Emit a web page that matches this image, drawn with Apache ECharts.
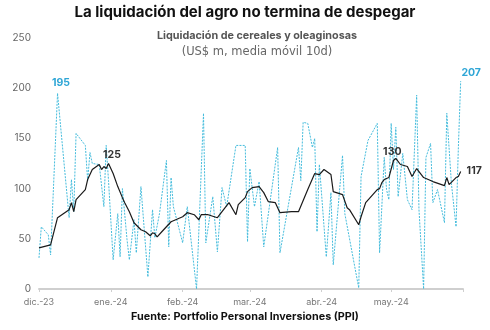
<!DOCTYPE html>
<html>
<head>
<meta charset="utf-8">
<script src="https://cdn.jsdelivr.net/npm/echarts@6/dist/echarts.min.js"></script>
<style>
html,body{margin:0;padding:0;background:#fff;}
#c{width:490px;height:330px;}
</style>
</head>
<body>
<div id="c"></div>
<script>
const title = 'La liquidación del agro no termina de despegar';
const subtitle1 = 'Liquidación de cereales y oleaginosas';
const subtitle2 = '(US$ m, media móvil 10d)';
const sourceLabel = 'Fuente: ';
const sourceName = 'Portfolio Personal Inversiones (PPI)';
const monthNames = ['ene.','feb.','mar.','abr.','may.','jun.','jul.','ago.','sep.','oct.','nov.','dic.'];
const yTicks = [0,50,100,150,200,250];

const dailyDates = ['2023-12-01','2023-12-02','2023-12-05','2023-12-06','2023-12-09','2023-12-14','2023-12-15','2023-12-16','2023-12-17','2023-12-21','2023-12-22','2023-12-23','2023-12-24','2023-12-27','2023-12-29','2023-12-30','2023-12-31',
'2024-01-02','2024-01-04','2024-01-05','2024-01-06','2024-01-08','2024-01-09','2024-01-11','2024-01-12','2024-01-14','2024-01-17','2024-01-19','2024-01-20','2024-01-22','2024-01-25','2024-01-26','2024-01-27','2024-01-28',
'2024-02-01','2024-02-03','2024-02-07','2024-02-10','2024-02-11','2024-02-14','2024-02-16','2024-02-18','2024-02-20','2024-02-24','2024-02-28','2024-02-29',
'2024-03-01','2024-03-03','2024-03-05','2024-03-07','2024-03-13','2024-03-14','2024-03-22','2024-03-23','2024-03-24','2024-03-26','2024-03-28','2024-03-29','2024-03-30','2024-03-31',
'2024-04-03','2024-04-05','2024-04-06','2024-04-10','2024-04-11','2024-04-17','2024-04-18','2024-04-21','2024-04-25','2024-04-26','2024-04-28','2024-04-29','2024-04-30',
'2024-05-01','2024-05-02','2024-05-03','2024-05-04','2024-05-06','2024-05-08','2024-05-10','2024-05-12','2024-05-13','2024-05-15','2024-05-16','2024-05-18','2024-05-19','2024-05-21','2024-05-24','2024-05-25','2024-05-27','2024-05-29','2024-05-30','2024-05-31'];
const dailyValues = [31,62,54,34,195,71,109,77,155,143,108,136,125,124,82,143,108,
29,75,32,100,49,29,69,36,102,12,79,51,75,128,42,111,82,
46,82,0,175,46,92,37,101,82,143,143,47,
120,82,107,42,141,36,141,108,166,165,141,150,57,124,
32,96,24,133,75,1,112,148,165,36,131,99,89,
165,119,161,92,135,89,79,193,79,0,131,145,86,99,66,175,105,62,141,207];

const maDates = ['2023-12-01','2023-12-06','2023-12-09','2023-12-14','2023-12-15','2023-12-16','2023-12-17','2023-12-21','2023-12-22','2023-12-24','2023-12-27','2023-12-28','2023-12-29','2023-12-30','2023-12-31',
'2024-01-02','2024-01-04','2024-01-06','2024-01-07','2024-01-09','2024-01-11','2024-01-14','2024-01-16','2024-01-18','2024-01-19','2024-01-20','2024-01-21','2024-01-23','2024-01-25','2024-01-27','2024-01-29',
'2024-02-01','2024-02-03','2024-02-06','2024-02-08','2024-02-09','2024-02-12','2024-02-16','2024-02-21','2024-02-24','2024-02-25','2024-02-28','2024-02-29',
'2024-03-02','2024-03-05','2024-03-07','2024-03-09','2024-03-12','2024-03-14','2024-03-19','2024-03-22','2024-03-26','2024-03-29','2024-03-31',
'2024-04-02','2024-04-05','2024-04-06','2024-04-10','2024-04-12','2024-04-13','2024-04-17','2024-04-18','2024-04-20','2024-04-25','2024-04-26','2024-04-27','2024-04-28','2024-04-30',
'2024-05-02','2024-05-03','2024-05-05','2024-05-08','2024-05-10','2024-05-12','2024-05-15','2024-05-19','2024-05-24','2024-05-25','2024-05-26','2024-05-29','2024-05-30','2024-05-31'];
const maValues = [41,44,71,79,86,77,89,99,109,119,124,119,122,120,125,
115,102,91,86,77,66,59,57,53,56,55,52,57,62,67,69,
72,76,74,69,74,74,71,86,74,84,91,97,
101,102,96,87,86,76,77,77,99,115,114,
119,114,97,94,81,79,64,72,86,99,100,106,109,111,
128,130,124,122,112,120,111,107,103,111,104,111,112,117];

const dailyLabelIdx = [4, dailyValues.length - 1];
const maLabelIdx = [14, 69, maValues.length - 1];

const blue = '#45bcdc';
const labelBlue = '#2fa6d6';
const DAY = 86400000;

function buildData(dates, vals, labelIdx, labelCfg) {
  return dates.map((d, i) => {
    const item = { value: [d, vals[i]] };
    if (labelIdx.indexOf(i) >= 0) {
      item.symbolSize = 1;
      item.label = Object.assign({ show: true, align: 'center', verticalAlign: 'middle' }, labelCfg(i));
    }
    return item;
  });
}

const chart = echarts.init(document.getElementById('c'), null, { renderer: 'canvas' });
chart.setOption({
  animation: false,
  backgroundColor: '#ffffff',
  title: [
    { text: title, left: 'center', top: 0, textStyle: { fontFamily: 'Inter', fontWeight: 'bold', fontSize: 15, color: '#111' } },
    { text: subtitle1, left: 252, textAlign: 'center', top: 25, textStyle: { fontFamily: 'Inter', fontWeight: 'bold', fontSize: 10.8, color: '#555' } },
    { text: subtitle2, left: 252, textAlign: 'center', top: 41, textStyle: { fontFamily: 'DejaVu Sans', fontWeight: 'normal', fontSize: 11.5, color: '#666' } },
    { text: '{a|' + sourceLabel + '}{b|' + sourceName + '}', left: 'center', top: 306,
      textStyle: { rich: { a: { fontFamily: 'Inter', fontSize: 10.8, color: '#111' }, b: { fontFamily: 'Inter', fontSize: 10.8, fontWeight: 'bold', color: '#111' } } } }
  ],
  grid: { left: 39, right: 27, top: 38, bottom: 41, containLabel: false },
  xAxis: {
    type: 'time',
    min: '2023-12-01',
    max: '2024-06-01',
    minInterval: 28 * DAY,
    maxInterval: 31 * DAY,
    axisLine: { show: true, lineStyle: { color: '#cfcfcf', width: 2 } },
    axisTick: { show: true, length: 3, lineStyle: { color: '#cfcfcf' } },
    splitLine: { show: false },
    axisLabel: {
      fontFamily: 'Inter', fontSize: 9, color: '#777', margin: 9, showMaxLabel: false,
      formatter: function (v) { const d = new Date(v); if (d.getMonth() === 5) return ''; return monthNames[d.getMonth()] + '-' + String(d.getFullYear()).slice(2); }
    }
  },
  yAxis: {
    type: 'value', min: yTicks[0], max: yTicks[yTicks.length - 1], interval: 50,
    axisLine: { show: false }, axisTick: { show: false }, splitLine: { show: false },
    axisLabel: { fontFamily: 'Inter', fontSize: 10, color: '#666', margin: 8 }
  },
  series: [
    {
      name: 'Diario', type: 'line', symbol: 'circle', symbolSize: 0, showSymbol: true, showAllSymbol: true, z: 2,
      itemStyle: { color: 'rgba(0,0,0,0)', borderWidth: 0 },
      lineStyle: { color: blue, width: 1, type: [2, 1.2] },
      labelLayout: { hideOverlap: false },
      data: buildData(dailyDates, dailyValues, dailyLabelIdx, (i) => ({
        position: i === dailyValues.length - 1 ? [11, -8] : [4, -10],
        color: labelBlue, fontWeight: 'bold', fontFamily: 'Inter', fontSize: 10.5
      }))
    },
    {
      name: 'Media móvil 10d', type: 'line', symbol: 'circle', symbolSize: 0, showSymbol: true, showAllSymbol: true, z: 3,
      itemStyle: { color: 'rgba(0,0,0,0)', borderWidth: 0 },
      lineStyle: { color: '#1a1a1a', width: 1.2 },
      labelLayout: { hideOverlap: false },
      data: buildData(maDates, maValues, maLabelIdx, (i) => ({
        position: i === maValues.length - 1 ? [14, 0] : (i === 14 ? [4, -8] : [-3, -6]),
        color: '#333', fontWeight: 'bold', fontFamily: 'Inter', fontSize: 10.5
      }))
    }
  ]
});
</script>
</body>
</html>
